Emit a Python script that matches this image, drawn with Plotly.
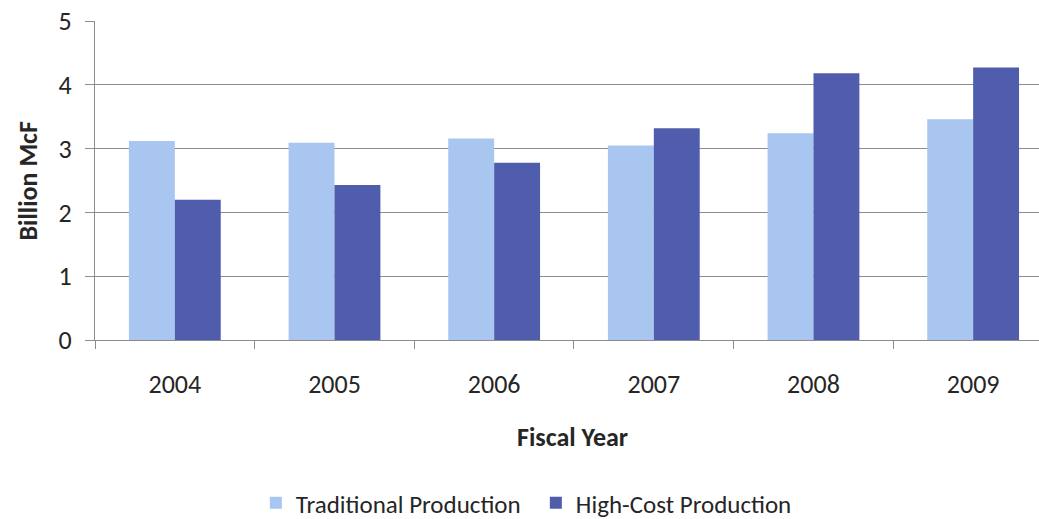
import plotly.graph_objects as go

# Natural gas production by fiscal year (billion McF)
years = ["2004", "2005", "2006", "2007", "2008", "2009"]
traditional = [3.12, 3.09, 3.16, 3.05, 3.24, 3.46]
high_cost = [2.20, 2.43, 2.78, 3.32, 4.18, 4.27]
y_ticks = [0, 1, 2, 3, 4, 5]

FONT = "Carlito, Calibri, Lato, sans-serif"
TEXT = "#262626"
GRID = "#8c8c8c"
FS = 26

fig = go.Figure()
fig.add_trace(go.Bar(
    x=years, y=traditional, name="Traditional Production",
    marker=dict(color="#a9c6f0", line=dict(width=0)),
))
fig.add_trace(go.Bar(
    x=years, y=high_cost, name="High-Cost Production",
    marker=dict(color="#4f5dac", line=dict(width=0)),
))

fig.update_layout(
    width=1039, height=519,
    margin=dict(l=95, r=0, t=21, b=179, autoexpand=False),
    paper_bgcolor="white", plot_bgcolor="white",
    font=dict(family=FONT, size=FS, color=TEXT),
    barmode="group", bargap=0.425, bargroupgap=0,
    showlegend=True,
    legend=dict(
        orientation="h", x=0.467, xanchor="center", y=-0.511, yanchor="middle",
        font=dict(size=25, color=TEXT), itemwidth=30, traceorder="normal",
        entrywidth=235,
    ),
    annotations=[
        dict(text="<b>Fiscal Year</b>", xref="paper", yref="paper",
             x=0.506, y=-0.304, xanchor="center", yanchor="middle",
             showarrow=False, font=dict(size=FS, color=TEXT)),
        dict(text="<b>Billion McF</b>", xref="paper", yref="paper",
             x=-0.072, y=0.5, xanchor="center", yanchor="middle",
             textangle=-90, showarrow=False, font=dict(size=FS, color=TEXT)),
    ],
)

fig.update_xaxes(
    type="category", range=[-0.5, 5.4125],
    showline=True, linecolor=GRID, linewidth=1,
    ticks="outside", ticklen=8, tickcolor=GRID, tickson="boundaries",
    ticklabelstandoff=21,
    tickfont=dict(size=FS, color=TEXT),
    showgrid=False, zeroline=False,
)
fig.update_yaxes(
    range=[0, 5], tickvals=y_ticks,
    showline=True, linecolor=GRID, linewidth=1,
    ticks="outside", ticklen=9, tickcolor=GRID,
    ticklabelstandoff=8,
    tickfont=dict(size=FS, color=TEXT),
    showgrid=True, gridcolor=GRID, gridwidth=1, zeroline=False,
)

fig.write_html("out.html")
